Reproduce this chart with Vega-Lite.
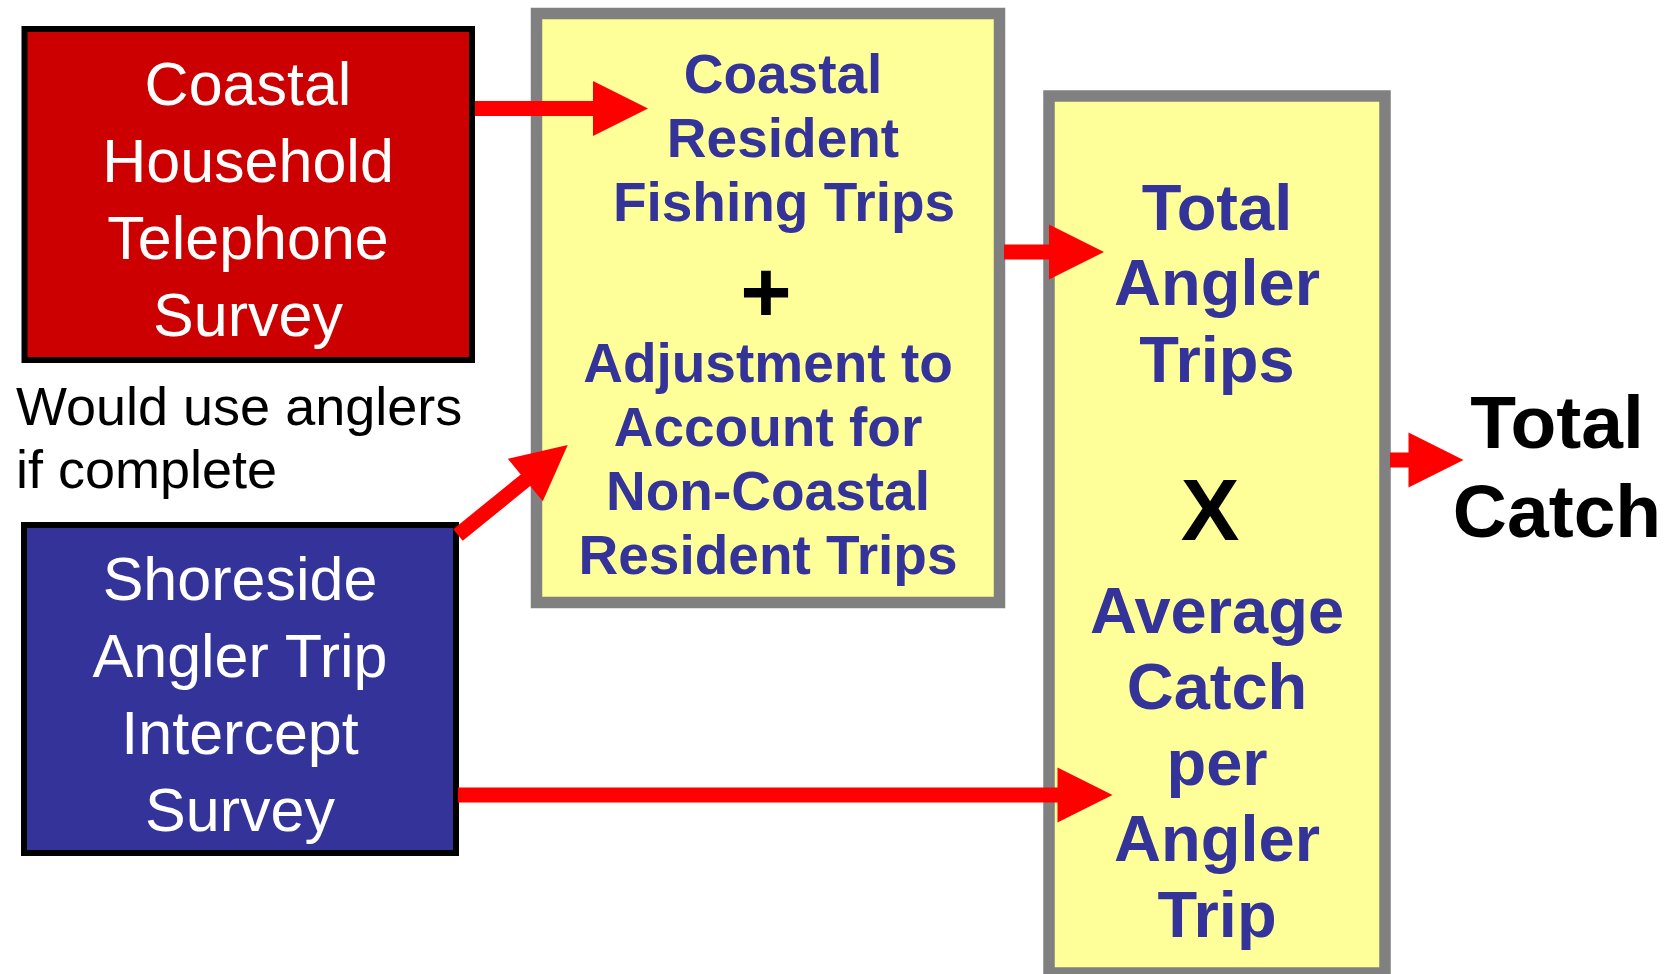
{
  "$schema": "https://vega.github.io/schema/vega-lite/v6.json",
  "width": 1678,
  "height": 974,
  "autosize": "none",
  "padding": 0,
  "background": "white",
  "config": {"view": {"stroke": null}},
  "datasets": {
    "survey_boxes": [
      {"box": "Telephone", "x": 24.5, "x2": 472, "y": 29, "y2": 360},
      {"box": "Intercept", "x": 24, "x2": 456, "y": 525, "y2": 853}
    ],
    "step_boxes": [
      {"step": "Trips", "x": 536.5, "x2": 999.5, "y": 13.5, "y2": 602.5},
      {"step": "Catch", "x": 1049, "x2": 1385, "y": 96, "y2": 973}
    ],
    "shafts": [
      {"from": "Telephone", "x": 475, "y": 108.5, "x2": 594, "y2": 108.5},
      {"from": "Trips", "x": 1004, "y": 252, "x2": 1050, "y2": 252},
      {"from": "Catch", "x": 1390, "y": 460, "x2": 1410, "y2": 460},
      {"from": "Intercept", "x": 458, "y": 795, "x2": 1058, "y2": 795},
      {"from": "Intercept-adj", "x": 458, "y": 535, "x2": 527, "y2": 479}
    ],
    "heads": [
      {"to": "Trips", "x": 620.5, "y": 108.5},
      {"to": "Total Angler Trips", "x": 1076.5, "y": 252},
      {"to": "Total Catch", "x": 1436, "y": 460},
      {"to": "Average Catch", "x": 1085, "y": 795}
    ],
    "diag_heads": [
      {"to": "Adjustment", "x": 546.5, "y": 462.5}
    ],
    "survey_text": [
      {"x": 248, "y": 105, "t": "Coastal"},
      {"x": 248, "y": 182, "t": "Household"},
      {"x": 248, "y": 259, "t": "Telephone"},
      {"x": 248, "y": 336, "t": "Survey"},
      {"x": 240, "y": 600, "t": "Shoreside"},
      {"x": 240, "y": 677, "t": "Angler Trip"},
      {"x": 240, "y": 754, "t": "Intercept"},
      {"x": 240, "y": 831, "t": "Survey"}
    ],
    "note": [
      {"x": 16, "y": 425, "t": "Would use anglers"},
      {"x": 16, "y": 488, "t": "if complete"}
    ],
    "step1_text": [
      {"x": 783, "y": 93, "t": "Coastal"},
      {"x": 783, "y": 157, "t": "Resident"},
      {"x": 784, "y": 221, "t": "Fishing Trips"},
      {"x": 768, "y": 382, "t": "Adjustment to"},
      {"x": 768, "y": 446, "t": "Account for"},
      {"x": 768, "y": 510, "t": "Non-Coastal"},
      {"x": 768, "y": 574, "t": "Resident Trips"}
    ],
    "step2_text": [
      {"x": 1217, "y": 230, "t": "Total"},
      {"x": 1217, "y": 305, "t": "Angler"},
      {"x": 1217, "y": 382, "t": "Trips"},
      {"x": 1217, "y": 633, "t": "Average"},
      {"x": 1217, "y": 709, "t": "Catch"},
      {"x": 1217, "y": 785, "t": "per"},
      {"x": 1217, "y": 861, "t": "Angler"},
      {"x": 1217, "y": 937, "t": "Trip"}
    ],
    "ops": [
      {"x": 766, "y": 322, "t": "+"},
      {"x": 1210, "y": 540, "t": "X"}
    ],
    "result": [
      {"x": 1557, "y": 448, "t": "Total"},
      {"x": 1557, "y": 537, "t": "Catch"}
    ]
  },
  "encoding": {
    "x": {"field": "x", "type": "quantitative", "scale": {"domain": [0, 1678], "nice": false, "zero": false}, "axis": null},
    "y": {"field": "y", "type": "quantitative", "scale": {"domain": [0, 974], "nice": false, "zero": false, "reverse": true}, "axis": null}
  },
  "layer": [
    {
      "data": {"name": "survey_boxes"},
      "mark": {"type": "rect", "stroke": "black", "strokeWidth": 6},
      "encoding": {
        "x2": {"field": "x2"},
        "y2": {"field": "y2"},
        "fill": {"field": "box", "type": "nominal", "scale": {"domain": ["Telephone", "Intercept"], "range": ["#cc0000", "#333399"]}, "legend": null}
      }
    },
    {
      "data": {"name": "step_boxes"},
      "mark": {"type": "rect", "stroke": "#808080", "strokeWidth": 11.5, "fill": "#ffff99"},
      "encoding": {
        "x2": {"field": "x2"},
        "y2": {"field": "y2"}
      }
    },
    {
      "data": {"name": "shafts"},
      "mark": {"type": "rule", "color": "#ff0000", "strokeWidth": 15, "strokeCap": "butt"},
      "encoding": {
        "x2": {"field": "x2"},
        "y2": {"field": "y2"}
      }
    },
    {
      "data": {"name": "heads"},
      "mark": {"type": "point", "shape": "M-1,-1L1,0L-1,1Z", "size": 3025, "filled": true, "color": "#ff0000", "opacity": 1, "strokeWidth": 0}
    },
    {
      "data": {"name": "diag_heads"},
      "mark": {"type": "point", "shape": "M-1,-1L1,0L-1,1Z", "size": 3025, "angle": -39.5, "filled": true, "color": "#ff0000", "opacity": 1, "strokeWidth": 0}
    },
    {
      "data": {"name": "survey_text"},
      "mark": {"type": "text", "font": "Liberation Sans", "fontSize": 61, "color": "white", "align": "center", "baseline": "alphabetic"},
      "encoding": {"text": {"field": "t"}}
    },
    {
      "data": {"name": "note"},
      "mark": {"type": "text", "font": "Liberation Sans", "fontSize": 54, "color": "black", "align": "left", "baseline": "alphabetic"},
      "encoding": {"text": {"field": "t"}}
    },
    {
      "data": {"name": "step1_text"},
      "mark": {"type": "text", "font": "Liberation Sans", "fontWeight": "bold", "fontSize": 55, "color": "#333399", "align": "center", "baseline": "alphabetic"},
      "encoding": {"text": {"field": "t"}}
    },
    {
      "data": {"name": "step2_text"},
      "mark": {"type": "text", "font": "Liberation Sans", "fontWeight": "bold", "fontSize": 65, "color": "#333399", "align": "center", "baseline": "alphabetic"},
      "encoding": {"text": {"field": "t"}}
    },
    {
      "data": {"name": "ops"},
      "mark": {"type": "text", "font": "Liberation Sans", "fontWeight": "bold", "fontSize": 88, "color": "black", "align": "center", "baseline": "alphabetic"},
      "encoding": {"text": {"field": "t"}}
    },
    {
      "data": {"name": "result"},
      "mark": {"type": "text", "font": "Liberation Sans", "fontWeight": "bold", "fontSize": 75, "color": "black", "align": "center", "baseline": "alphabetic"},
      "encoding": {"text": {"field": "t"}}
    }
  ]
}
